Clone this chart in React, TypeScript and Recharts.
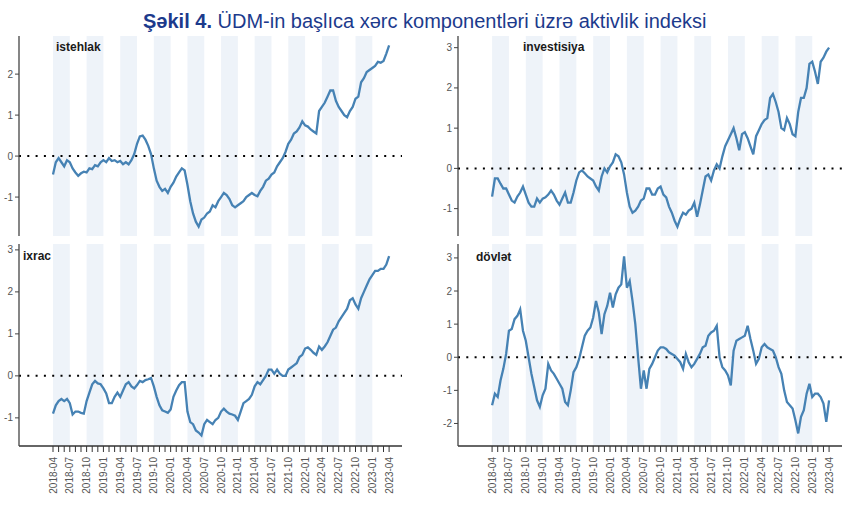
import React from "react";
import { LineChart, Line, XAxis, YAxis, ReferenceLine, ReferenceArea } from "recharts";

// values every half month, starting 2018-04
const istehlak = [
  -0.45, -0.15, -0.05, -0.15, -0.25, -0.1, -0.15, -0.3, -0.4, -0.48,
  -0.42, -0.38, -0.4, -0.3, -0.32, -0.22, -0.25, -0.15, -0.1, -0.15,
  -0.05, -0.12, -0.1, -0.15, -0.12, -0.2, -0.15, -0.2, -0.1, 0.05,
  0.3, 0.48, 0.5, 0.4, 0.25, 0.05, -0.3, -0.6, -0.75, -0.85,
  -0.8, -0.9, -0.75, -0.65, -0.5, -0.4, -0.3, -0.35, -0.7, -1.1,
  -1.4, -1.6, -1.72, -1.55, -1.5, -1.4, -1.35, -1.2, -1.25, -1.1,
  -1.0, -0.9, -0.95, -1.05, -1.2, -1.25, -1.2, -1.15, -1.1, -1.0,
  -0.95, -0.9, -0.95, -0.98, -0.85, -0.75, -0.6, -0.55, -0.45, -0.4,
  -0.25, -0.15, -0.05, 0.1, 0.3, 0.4, 0.55, 0.6, 0.7, 0.85,
  0.75, 0.72, 0.65, 0.6, 0.55, 1.1, 1.2, 1.3, 1.45, 1.6,
  1.6, 1.35, 1.2, 1.1, 1.0, 0.95, 1.1, 1.2, 1.4, 1.45,
  1.8, 1.9, 2.05, 2.1, 2.15, 2.2, 2.3, 2.28, 2.32, 2.5,
  2.7,
];

const investisiya = [
  -0.7, -0.25, -0.25, -0.38, -0.5, -0.5, -0.65, -0.8, -0.85, -0.7,
  -0.6, -0.45, -0.65, -0.85, -0.95, -0.95, -0.75, -0.85, -0.75, -0.72,
  -0.65, -0.55, -0.65, -0.8, -0.9, -0.75, -0.6, -0.85, -0.85, -0.6,
  -0.3, -0.1, -0.05, -0.12, -0.2, -0.25, -0.3, -0.45, -0.55, -0.2,
  0.0, -0.1, 0.05, 0.15, 0.35, 0.3, 0.15, -0.15, -0.6, -0.95,
  -1.1, -1.05, -0.95, -0.8, -0.75, -0.5, -0.5, -0.65, -0.65, -0.5,
  -0.45, -0.65, -0.72, -0.95, -1.1, -1.3, -1.45, -1.25, -1.1, -1.15,
  -1.05, -1.0, -0.85, -1.2, -0.9, -0.55, -0.2, -0.15, -0.3, -0.05,
  0.1, 0.0, 0.3, 0.55, 0.7, 0.85, 1.0, 0.75, 0.45, 0.85,
  0.9, 0.75, 0.55, 0.35, 0.8, 0.95, 1.1, 1.2, 1.25, 1.75,
  1.85, 1.65, 1.4, 1.0, 0.95, 1.25, 1.1, 0.85, 0.8, 1.4,
  1.75, 1.75, 2.0, 2.6, 2.65, 2.4, 2.1, 2.65, 2.75, 2.9,
  3.0,
];

const ixrac = [
  -0.9, -0.7, -0.6, -0.55, -0.6, -0.55, -0.65, -0.92, -0.85, -0.85,
  -0.88, -0.9, -0.6, -0.4, -0.2, -0.12, -0.18, -0.2, -0.3, -0.42,
  -0.65, -0.65, -0.5, -0.4, -0.5, -0.35, -0.2, -0.15, -0.25, -0.3,
  -0.22, -0.12, -0.15, -0.1, -0.08, -0.05, -0.25, -0.5, -0.7, -0.82,
  -0.85, -0.88, -0.8, -0.5, -0.35, -0.22, -0.15, -0.15, -0.85, -1.1,
  -1.15, -1.3, -1.35, -1.42, -1.15, -1.05, -1.1, -1.15, -1.05, -1.0,
  -0.85, -0.78, -0.85, -0.9, -0.92, -0.95, -1.05, -0.85, -0.65, -0.6,
  -0.55, -0.45, -0.25, -0.15, -0.2, -0.1, 0.0, 0.15, 0.15, 0.05,
  0.15, 0.05, 0.0, 0.0, 0.15, 0.2, 0.25, 0.3, 0.45, 0.5,
  0.65, 0.68, 0.62, 0.55, 0.5, 0.7, 0.62, 0.7, 0.8, 0.95,
  1.1, 1.15, 1.3, 1.4, 1.5, 1.6, 1.8, 1.85, 1.7, 1.6,
  1.85, 2.0, 2.15, 2.3, 2.4, 2.5, 2.5, 2.55, 2.55, 2.65,
  2.85,
];

const dovlet = [
  -1.45, -1.1, -1.2, -0.7, -0.35, 0.1, 0.8, 0.85, 1.15, 1.25,
  1.45, 0.8, 0.5, 0.0, -0.5, -0.9, -1.3, -1.5, -1.15, -0.95,
  -0.2, -0.4, -0.5, -0.65, -0.8, -0.95, -1.35, -1.45, -1.0, -0.45,
  -0.3, -0.05, 0.3, 0.65, 0.8, 0.9, 1.2, 1.7, 1.35, 0.7,
  1.3, 1.55, 1.95, 1.5, 1.9, 2.1, 2.2, 3.05, 2.1, 2.3,
  1.7, 1.0, 0.0, -0.95, -0.4, -0.95, -0.35, -0.2, 0.0, 0.2,
  0.3, 0.3, 0.25, 0.15, 0.1, 0.05, -0.05, -0.15, -0.35, 0.1,
  -0.15, -0.3, -0.2, -0.05, 0.1, 0.3, 0.35, 0.65, 0.75, 0.8,
  0.95, 0.0, -0.3, -0.4, -0.55, -0.85, 0.2, 0.5, 0.55, 0.6,
  0.65, 0.95, 0.55, 0.2, -0.2, -0.05, 0.3, 0.4, 0.3, 0.25,
  0.2, 0.0, -0.3, -0.5, -1.0, -1.35, -1.45, -1.55, -1.9, -2.3,
  -1.8, -1.6, -1.1, -0.8, -1.2, -1.1, -1.1, -1.2, -1.4, -1.95,
  -1.3,
];

const quarterLabels = [
  "2018-04", "2018-07", "2018-10", "2019-01", "2019-04", "2019-07", "2019-10",
  "2020-01", "2020-04", "2020-07", "2020-10", "2021-01", "2021-04", "2021-07",
  "2021-10", "2022-01", "2022-04", "2022-07", "2022-10", "2023-01", "2023-04",
];

const shadedFrom = [
  "2018-04", "2018-10", "2019-04", "2019-10", "2020-04",
  "2020-10", "2021-04", "2021-10", "2022-04", "2022-10",
];

const monthIndex = (s: string) => {
  const [y, m] = s.split("-").map(Number);
  return (y - 2018) * 12 + (m - 4);
};

const monthTicks = Array.from({ length: 61 }, (_, i) => i);
const X_DOMAIN: [number, number] = [-6.07, 62.3];
const FONT = "'Liberation Sans', Arial, sans-serif";

const QuarterTick = (props: any) => {
  const { x, y, payload } = props;
  const v = payload.value;
  if (v % 3 !== 0) return null;
  return (
    <text
      x={x}
      y={y}
      transform={`rotate(-90 ${x} ${y})`}
      textAnchor="end"
      dy="0.35em"
      fontSize={10}
      fill="#555"
      fontFamily={FONT}
    >
      {quarterLabels[v / 3]}
    </text>
  );
};

type PanelProps = {
  values: number[];
  left: number;
  top: number;
  width: number;
  yWidth: number;
  domain: [number, number];
  ticks: number[];
  bottom: boolean;
};

function Panel({ values, left, top, width, yWidth, domain, ticks, bottom }: PanelProps) {
  const data = values.map((v, i) => ({ t: i * 0.5, v }));
  const height = bottom ? 270 : 240;
  return (
    <div style={{ position: "absolute", left, top, width, height }}>
      <LineChart
        width={width}
        height={height}
        data={data}
        margin={{ top: bottom ? 4 : 36, right: 13, left: 0, bottom: bottom ? 0 : 4 }}
      >
        {shadedFrom.map((s) => {
          const a = monthIndex(s);
          return (
            <ReferenceArea
              key={s}
              x1={a}
              x2={a + 3}
              fill="#eef3f9"
              fillOpacity={1}
              stroke="none"
            />
          );
        })}
        <XAxis
          type="number"
          dataKey="t"
          domain={X_DOMAIN}
          ticks={monthTicks}
          interval={0}
          allowDataOverflow
          hide={!bottom}
          height={64}
          tickSize={6}
          tickMargin={5}
          tick={<QuarterTick />}
          axisLine={{ stroke: "#333", strokeWidth: 1.3 }}
          tickLine={{ stroke: "#333" }}
        />
        <YAxis
          type="number"
          domain={domain}
          ticks={ticks}
          interval={0}
          allowDataOverflow
          width={yWidth}
          tickSize={4}
          tickMargin={2}
          tick={{ fontSize: 10, fill: "#555", fontFamily: FONT }}
          axisLine={{ stroke: "#444", strokeWidth: 1.3 }}
          tickLine={{ stroke: "#444" }}
        />
        <ReferenceLine y={0} stroke="#000" strokeWidth={2} strokeDasharray="2 6.3" />
        <Line
          dataKey="v"
          type="linear"
          stroke="#4682b4"
          strokeWidth={2.3}
          dot={false}
          isAnimationActive={false}
        />
      </LineChart>
    </div>
  );
}

export default function App() {
  return (
    <div
      style={{
        position: "absolute",
        left: 0,
        top: 0,
        width: 855,
        height: 510,
        background: "#fff",
        fontFamily: FONT,
      }}
    >
      <Panel values={istehlak} left={0} top={0} width={415} yWidth={19} domain={[-1.95, 2.93]} ticks={[-1, 0, 1, 2]} bottom={false} />
      <Panel values={investisiya} left={430} top={0} width={425} yWidth={28} domain={[-1.68, 3.29]} ticks={[-1, 0, 1, 2, 3]} bottom={false} />
      <Panel values={ixrac} left={0} top={240} width={415} yWidth={19} domain={[-1.67, 3.14]} ticks={[-1, 0, 1, 2, 3]} bottom />
      <Panel values={dovlet} left={430} top={240} width={425} yWidth={28} domain={[-2.68, 3.42]} ticks={[-2, -1, 0, 1, 2, 3]} bottom />
      <svg
        width={855}
        height={510}
        style={{ position: "absolute", left: 0, top: 0, pointerEvents: "none" }}
      >
        <text x={143} y={28} fontSize={20} fill="#1c3a8c" fontFamily={FONT}>
          <tspan fontWeight="bold">Şəkil 4.</tspan>
          <tspan> ÜDM-in başlıca xərc komponentləri üzrə aktivlik indeksi</tspan>
        </text>
        <g fontSize={12} fontWeight="bold" fill="#1a1a1a" fontFamily={FONT}>
          <text x={56} y={51}>istehlak</text>
          <text x={523} y={51}>investisiya</text>
          <text x={23} y={260}>ixrac</text>
          <text x={476} y={261}>dövlət</text>
        </g>
      </svg>
    </div>
  );
}
